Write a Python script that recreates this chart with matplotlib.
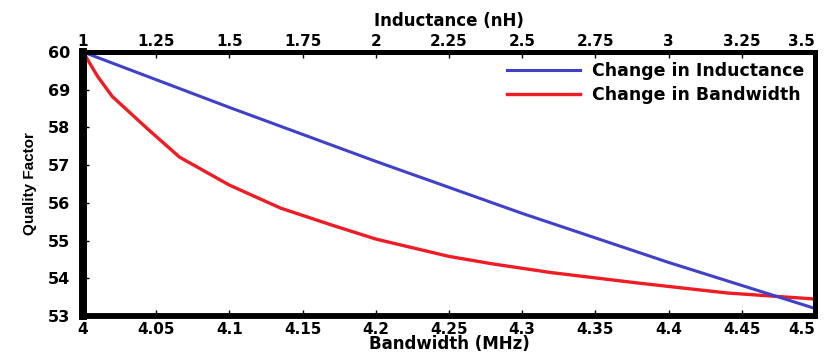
import matplotlib.pyplot as plt

# red curve: quality factor vs bandwidth (bottom axis)
bandwidth = [4.0, 4.01, 4.02, 4.045, 4.066, 4.1, 4.135, 4.17, 4.2, 4.25, 4.28, 4.32, 4.38, 4.44, 4.5]
q_bw = [60.0, 59.35, 58.82, 57.93, 57.21, 56.47, 55.86, 55.41, 55.04, 54.58, 54.38, 54.15, 53.87, 53.61, 53.45]

# blue curve: quality factor vs inductance (top axis)
inductance = [1.0, 1.5, 2.0, 2.5, 3.0, 3.5]
q_ind = [60.0, 58.53, 57.1, 55.72, 54.42, 53.2]

bw_ticks = [4, 4.05, 4.1, 4.15, 4.2, 4.25, 4.3, 4.35, 4.4, 4.45, 4.5]
bw_labels = ["4", "4.05", "4.1", "4.15", "4.2", "4.25", "4.3", "4.35", "4.4", "4.45", "4.5"]
ind_ticks = [1, 1.25, 1.5, 1.75, 2, 2.25, 2.5, 2.75, 3, 3.25, 3.5]
ind_labels = ["1", "1.25", "1.5", "1.75", "2", "2.25", "2.5", "2.75", "3", "3.25", "3.5"]
q_ticks = [60, 59, 58, 57, 56, 55, 54, 53]
q_labels = ["60", "69", "58", "57", "56", "55", "54", "53"]

plt.rcParams['font.family'] = ['DejaVu Sans']

fig = plt.figure(figsize=(8.27, 3.52), dpi=100)
ax = fig.add_axes([0.1004, 0.1023, 0.8851, 0.75])
ax2 = ax.twiny()

red, = ax.plot(bandwidth, q_bw, color='#ee1c24', lw=2.4, label='Change in Bandwidth')
blue, = ax2.plot(inductance, q_ind, color='#4040c8', lw=2.2, label='Change in Inductance')

ax.set_xlim(4, 4.5)
ax.set_ylim(53, 60)
ax2.set_xlim(1, 3.5)

ax.set_xticks(bw_ticks)
ax.set_xticklabels(bw_labels, fontsize=11, fontweight='bold')
ax.set_yticks(q_ticks)
ax.set_yticklabels(q_labels, fontsize=11.5, fontweight='bold')
ax2.set_xticks(ind_ticks)
ax2.set_xticklabels(ind_labels, fontsize=11, fontweight='bold')

# last labels sit inside the figure edge, as in the original
ax.get_xticklabels()[-1].set_ha('right')
ax2.get_xticklabels()[-1].set_ha('right')

ax.tick_params(direction='in', length=4, width=1, pad=4)
ax.tick_params(axis='y', pad=9)
ax2.tick_params(direction='in', length=4, width=1, pad=2)

for a in (ax, ax2):
    a.spines['left'].set_linewidth(5.5)
    a.spines['bottom'].set_linewidth(4)
    a.spines['top'].set_linewidth(3.5)
    a.spines['right'].set_linewidth(3.5)

ax.set_xlabel('Bandwidth (MHz)', fontsize=12, fontweight='bold', labelpad=-1)
ax2.set_xlabel('Inductance (nH)', fontsize=12, fontweight='bold', labelpad=6)
ax.set_ylabel('Quality Factor', fontsize=11, fontweight='bold', labelpad=8,
              family=['Liberation Sans Narrow', 'Liberation Sans', 'DejaVu Sans'])

ax2.legend(handles=[blue, red], loc='upper right', frameon=False,
           prop={'size': 12.5, 'weight': 'bold'}, handlelength=4.2,
           handletextpad=0.7, borderaxespad=0.2, labelspacing=0.35)

fig.savefig('out.png', dpi=100)
